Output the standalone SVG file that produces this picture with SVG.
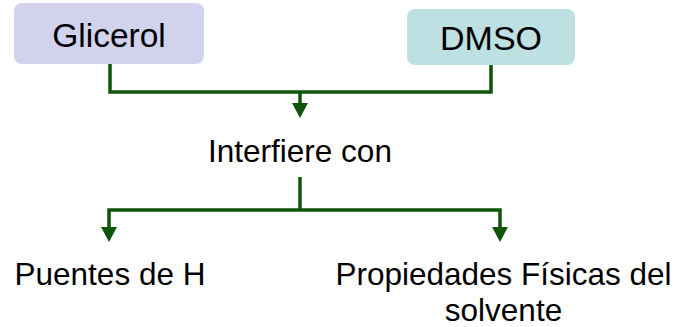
<svg xmlns="http://www.w3.org/2000/svg" width="686" height="327" viewBox="0 0 686 327">
<style>
text{font-family:"Liberation Sans",Arial,sans-serif;fill:#000;}
.c{fill:none;stroke:#0e550b;stroke-width:3.5;}
.lbl{font-size:31.5px;}
</style>
<rect width="686" height="327" fill="#fff"/>
<g id="glicerol">
<rect x="14" y="3" width="190" height="61" rx="8" fill="#d2d2ee"/>
<text x="109" y="47" font-size="33.5" text-anchor="middle">Glicerol</text>
</g>
<g id="dmso">
<rect x="407" y="9" width="168" height="56" rx="8" fill="#bde0e3"/>
<text x="491" y="50" font-size="34" text-anchor="middle">DMSO</text>
</g>
<g id="interfiere">
<text class="lbl" x="300" y="162" text-anchor="middle">Interfiere con</text>
</g>
<g id="puentes">
<text class="lbl" x="110" y="285" text-anchor="middle">Puentes de H</text>
</g>
<g id="propiedades">
<text class="lbl" x="503.5" y="285" text-anchor="middle">Propiedades Físicas del</text>
<text class="lbl" x="503.5" y="321" text-anchor="middle">solvente</text>
</g>
<g id="connectors">
<polyline class="c" points="110,64 110,92 491,92 491,65"/>
<line class="c" x1="300" y1="92" x2="300" y2="104"/>
<path d="M292,103 L308,103 L300,118 Z" fill="#0e550b"/>
<line class="c" x1="300" y1="177" x2="300" y2="210"/>
<polyline class="c" points="109,228 109,210 500,210 500,228"/>
<path d="M101,227 L117,227 L109,242 Z" fill="#0e550b"/>
<path d="M492,227 L508,227 L500,242 Z" fill="#0e550b"/>
</g>
</svg>
